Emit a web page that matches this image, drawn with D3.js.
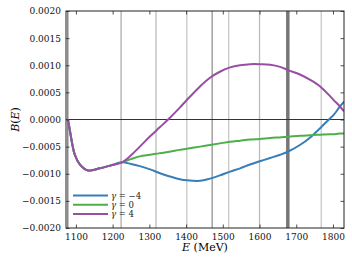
<!DOCTYPE html>
<html>
<head>
<meta charset="utf-8">
<script src="https://cdn.jsdelivr.net/npm/d3@7"></script>
<style>
  body { margin: 0; background: #fff; }
  text { font-family: "DejaVu Serif", serif; }
</style>
</head>
<body>
<div id="chart"></div>
<script>
// energies (MeV) and B(E) for the three gamma values
var energy = [1078, 1081, 1084, 1097, 1111, 1133, 1165, 1193, 1225, 1250, 1274, 1302, 1329, 1351, 1383, 1402, 1438, 1465, 1492, 1520, 1547, 1574, 1601, 1629, 1656, 1678, 1710, 1738, 1765, 1792, 1800, 1819, 1830];
var gammaMinus4 = [0, -0.0001, -0.00022, -0.00065, -0.00083, -0.00094, -0.0009, -0.00085, -0.00079, -0.00082, -0.00086, -0.00092, -0.00099, -0.00104, -0.0011, -0.00112, -0.00113, -0.00109, -0.00103, -0.00096, -0.0009, -0.00083, -0.00077, -0.00071, -0.00065, -0.00059, -0.00047, -0.00033, -0.00016, 0.00002, 0.00007, 0.00024, 0.00033];
var gamma0 = [0, -0.0001, -0.00022, -0.00065, -0.00083, -0.00094, -0.0009, -0.00085, -0.00079, -0.00073, -0.00068, -0.00065, -0.00062, -0.0006, -0.00056, -0.00054, -0.0005, -0.00047, -0.00044, -0.00041, -0.00039, -0.00037, -0.00036, -0.00034, -0.00033, -0.00032, -0.0003, -0.00029, -0.00028, -0.00027, -0.00027, -0.00026, -0.00026];
var gamma4 = [0, -0.0001, -0.00022, -0.00065, -0.00083, -0.00094, -0.0009, -0.00085, -0.00079, -0.00066, -0.0005, -0.00031, -0.00014, 0, 0.00022, 0.00036, 0.00061, 0.00077, 0.00088, 0.00096, 0.001, 0.00102, 0.00102, 0.00101, 0.00097, 0.00091, 0.00083, 0.00073, 0.00061, 0.00043, 0.00037, 0.00024, 0.00015];

// resonance positions (MeV) and how strongly they are marked
var resonances = [1223, 1318, 1402, 1471, 1516, 1600, 1677, 1768];
var resonanceWeight = [2, 1.5, 1, 3, 1, 1.5, 4, 1];
var threshold = 1078;

var xTicks = [1100, 1200, 1300, 1400, 1500, 1600, 1700, 1800];
var yTicks = [-0.002, -0.0015, -0.001, -0.0005, 0, 0.0005, 0.001, 0.0015, 0.002];
var legendLabels = ["\u22124", "0", "4"];

(function () {
  var W = 352, H = 260;
  var mLeft = 66, mRight = 344, mTop = 11, mBottom = 228;

  var svg = d3.select('#chart').append('svg')
    .attr('width', W).attr('height', H);

  var x = d3.scaleLinear().domain([1073, 1830]).range([mLeft, mRight]);
  var y = d3.scaleLinear().domain([-0.002, 0.002]).range([mBottom, mTop]);

  svg.append('clipPath').attr('id', 'clip')
    .append('rect').attr('x', mLeft).attr('y', mTop)
    .attr('width', mRight - mLeft).attr('height', mBottom - mTop);

  var plot = svg.append('g').attr('clip-path', 'url(#clip)');

  // resonance lines
  var shade = d3.scaleLinear().domain([1, 4]).range(['#c8c8c8', '#777']);
  plot.selectAll('line.res').data(resonances).enter()
    .append('line')
    .attr('class', 'res')
    .attr('x1', function(d) { return x(d); })
    .attr('x2', function(d) { return x(d); })
    .attr('y1', mTop).attr('y2', mBottom)
    .attr('stroke', function(d, i) { return shade(resonanceWeight[i]); })
    .attr('stroke-width', function(d, i) { return resonanceWeight[i] === 4 ? 3.5 : 1.3; });

  // threshold + zero line
  plot.append('line')
    .attr('x1', x(threshold)).attr('x2', x(threshold))
    .attr('y1', mTop).attr('y2', mBottom)
    .attr('stroke', '#222').attr('stroke-width', 0.8);
  plot.append('line')
    .attr('x1', mLeft).attr('x2', mRight)
    .attr('y1', y(0)).attr('y2', y(0))
    .attr('stroke', '#333').attr('stroke-width', 1);

  var series = [
    { vals: gammaMinus4, color: '#377eb8' },
    { vals: gamma0, color: '#4daf4a' },
    { vals: gamma4, color: '#984ea3' }
  ];

  var line = d3.line()
    .x(function(d) { return x(d[0]); })
    .y(function(d) { return y(d[1]); })
    .curve(d3.curveCatmullRom.alpha(0.5));

  series.forEach(function(s) {
    plot.append('path')
      .attr('d', line(d3.zip(energy, s.vals)))
      .attr('fill', 'none')
      .attr('stroke', s.color)
      .attr('stroke-width', 2);
  });

  // axes (ticks inward on all sides)
  var fmtY = function(d) { return d3.format('.4f')(d).replace('-', '\u2212'); };

  var gx = svg.append('g').attr('transform', 'translate(0,' + mBottom + ')')
    .call(d3.axisBottom(x).tickValues(xTicks).tickSizeInner(-3.5).tickSizeOuter(0).tickPadding(6).tickFormat(d3.format('d')));
  var gxt = svg.append('g').attr('transform', 'translate(0,' + mTop + ')')
    .call(d3.axisTop(x).tickValues(xTicks).tickSizeInner(-3.5).tickSizeOuter(0).tickFormat(''));
  var gy = svg.append('g').attr('transform', 'translate(' + mLeft + ',0)')
    .call(d3.axisLeft(y).tickValues(yTicks).tickSizeInner(-3.5).tickSizeOuter(0).tickPadding(5).tickFormat(fmtY));
  var gyr = svg.append('g').attr('transform', 'translate(' + mRight + ',0)')
    .call(d3.axisRight(y).tickValues(yTicks).tickSizeInner(-3.5).tickSizeOuter(0).tickFormat(''));

  [gx, gxt, gy, gyr].forEach(function(g) {
    g.select('.domain').remove();
    g.selectAll('line').attr('stroke', '#222').attr('stroke-width', 0.8);
    g.selectAll('text').attr('font-family', 'DejaVu Serif').attr('font-size', 9).attr('fill', '#111');
  });

  svg.append('rect')
    .attr('x', mLeft).attr('y', mTop)
    .attr('width', mRight - mLeft).attr('height', mBottom - mTop)
    .attr('fill', 'none').attr('stroke', '#222').attr('stroke-width', 1);

  // axis labels
  svg.append('text')
    .attr('x', (mLeft + mRight) / 2).attr('y', 251)
    .attr('text-anchor', 'middle').attr('font-size', 11)
    .html('<tspan font-style="italic">E</tspan> (MeV)');

  svg.append('text')
    .attr('transform', 'translate(19,' + ((mTop + mBottom) / 2) + ') rotate(-90)')
    .attr('text-anchor', 'middle').attr('font-size', 11)
    .html('<tspan font-style="italic">B</tspan>(<tspan font-style="italic">E</tspan>)');

  // legend
  var legend = svg.append('g');
  series.forEach(function(s, i) {
    var ly = 195.5 + i * 9.3;
    legend.append('line')
      .attr('x1', 73).attr('x2', 108)
      .attr('y1', ly).attr('y2', ly)
      .attr('stroke', s.color).attr('stroke-width', 2);
    legend.append('text')
      .attr('x', 111).attr('y', ly + 3)
      .attr('font-size', 8.5).attr('fill', '#222')
      .html('<tspan font-style="italic">\u03b3</tspan> = ' + legendLabels[i]);
  });
})();
</script>
</body>
</html>
